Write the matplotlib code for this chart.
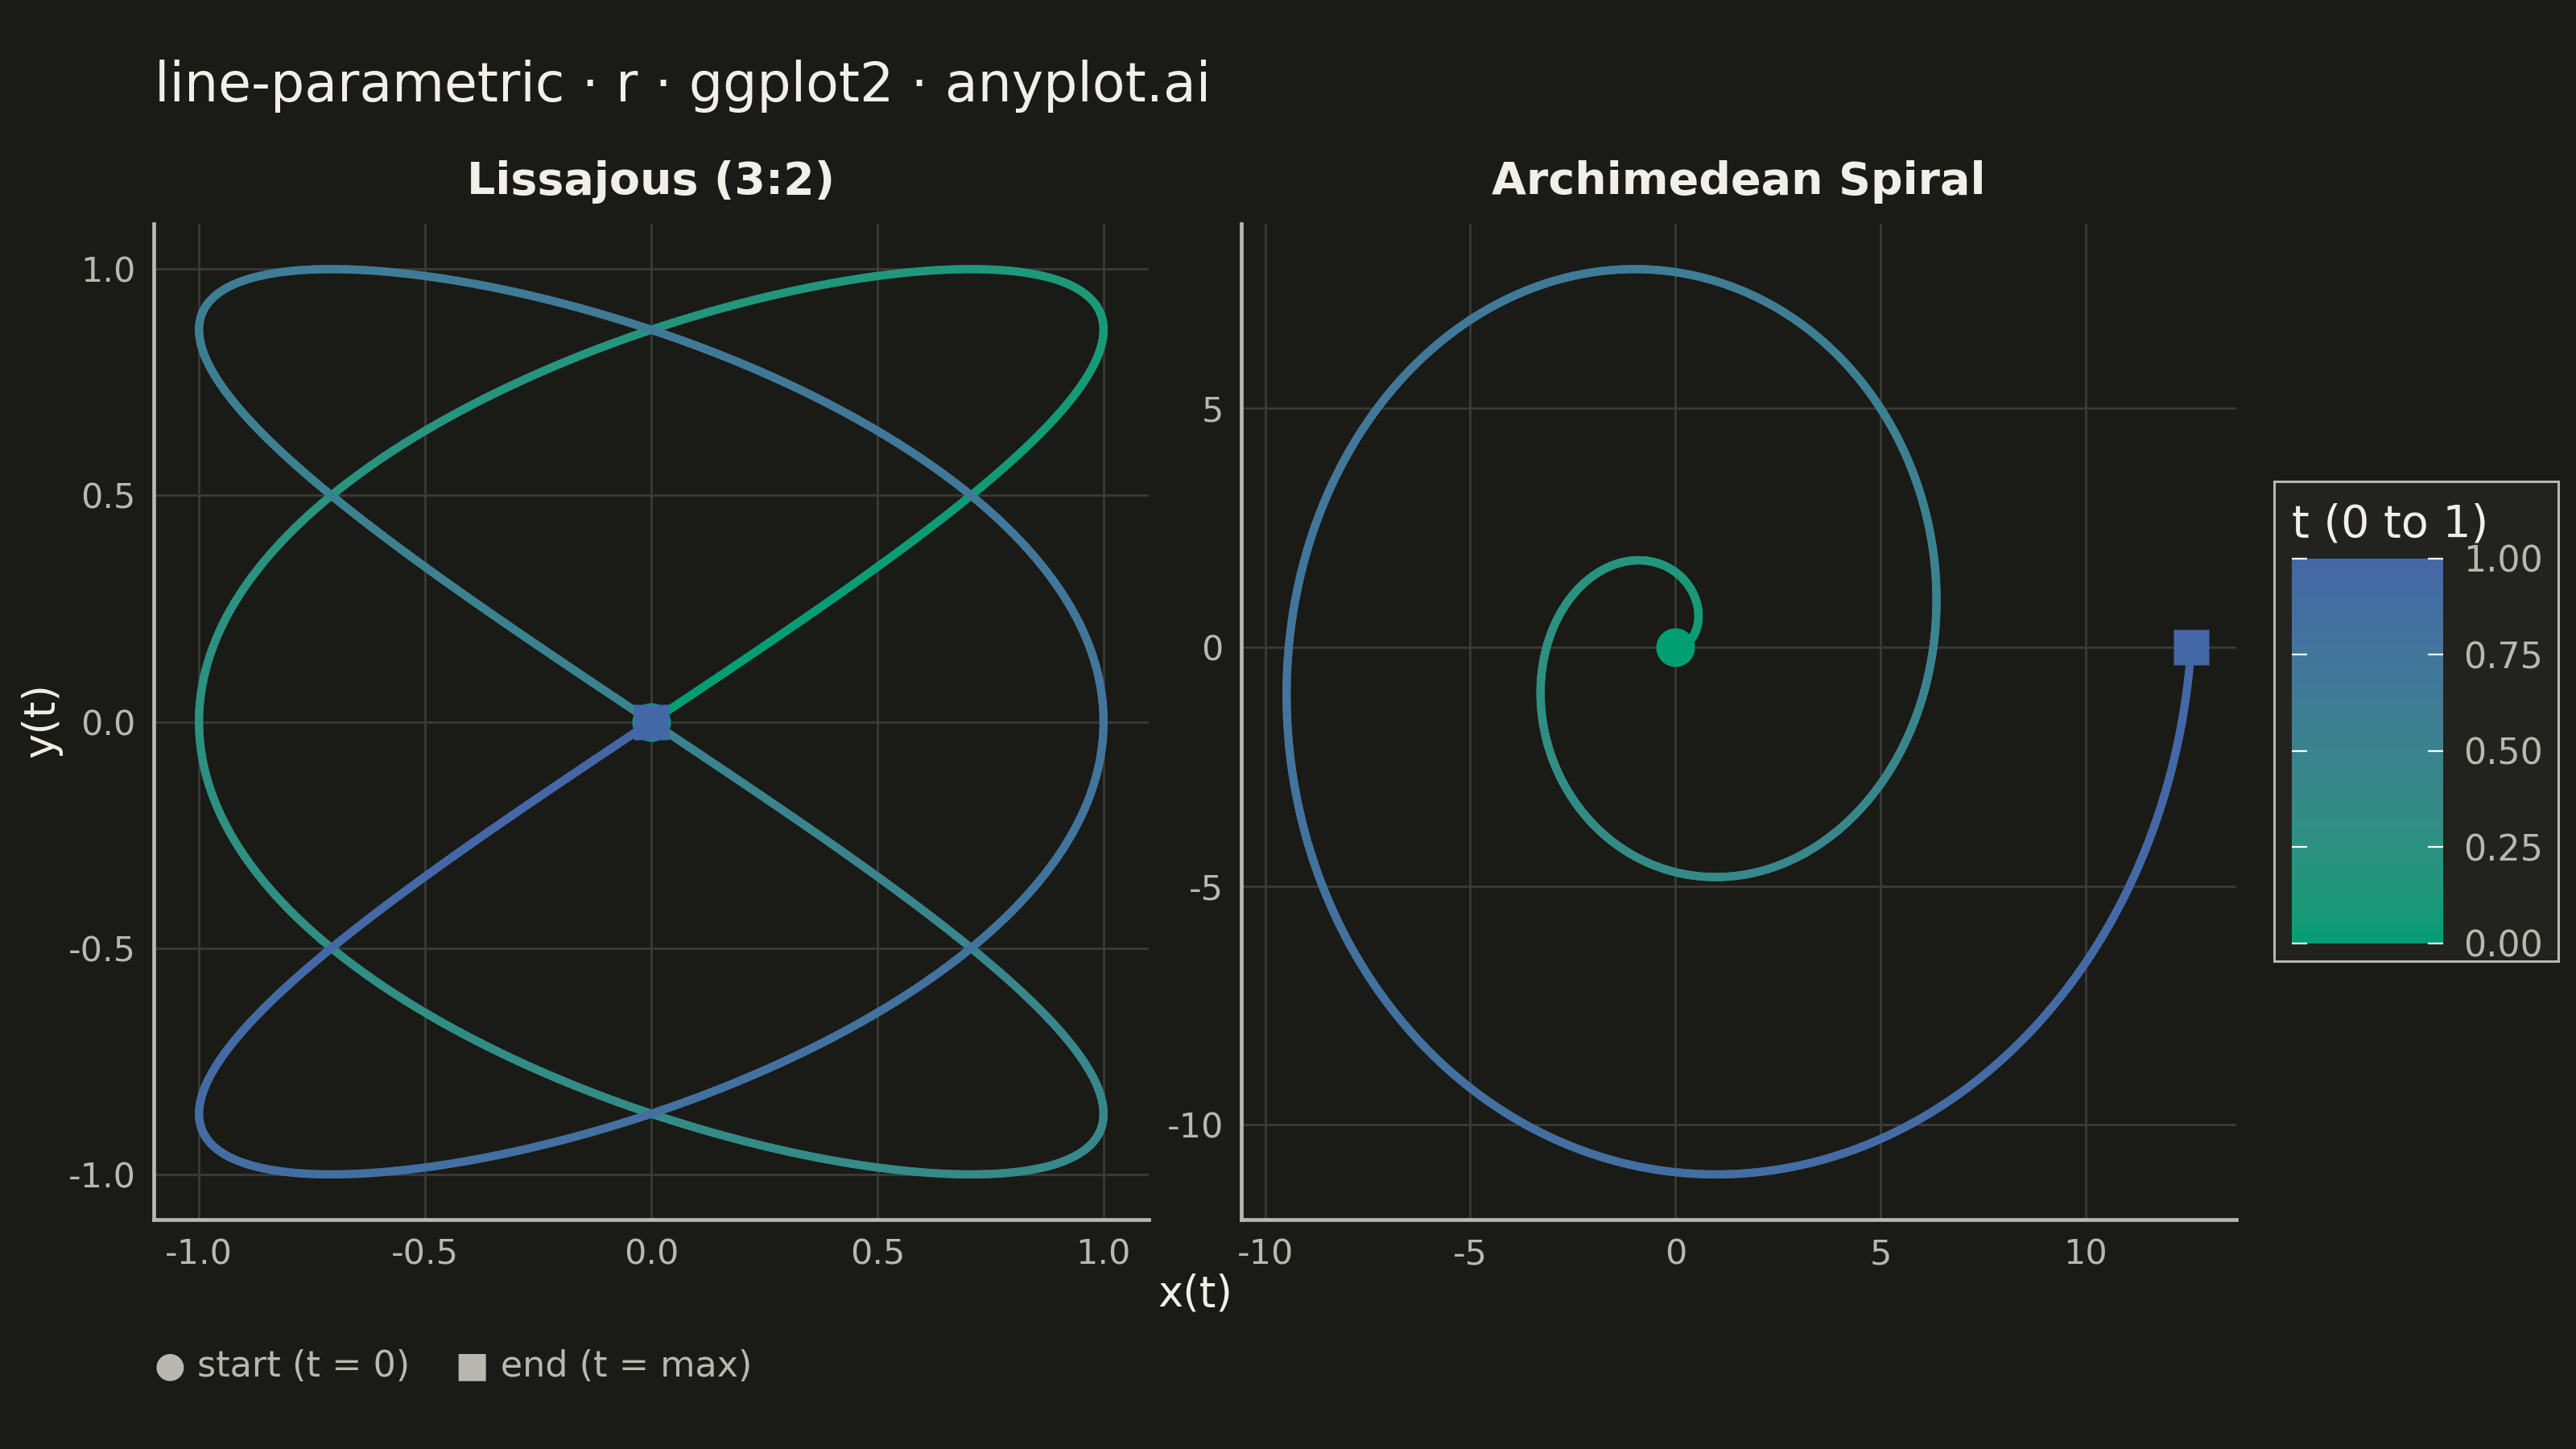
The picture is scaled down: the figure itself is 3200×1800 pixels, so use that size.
import numpy as np
import matplotlib
matplotlib.use("Agg")
import matplotlib.pyplot as plt
from matplotlib.collections import LineCollection
from matplotlib.colors import ListedColormap, Normalize
from matplotlib.cm import ScalarMappable
from matplotlib.patches import Rectangle

# ---------------- data (curve definitions) ----------------
lissajous_freq = [3, 2]          # x = sin(3 t), y = sin(2 t)
lissajous_t_max = 2 * np.pi
spiral_growth = 1.0              # r = 1.0 * theta
spiral_turns = 2                 # theta from 0 to 4 pi
n_points = 1500

panel_titles = ["Lissajous (3:2)", "Archimedean Spiral"]
liss_xticks = [-1.0, -0.5, 0.0, 0.5, 1.0]
liss_xticklabels = ["-1.0", "-0.5", "0.0", "0.5", "1.0"]
liss_yticks = [-1.0, -0.5, 0.0, 0.5, 1.0]
liss_yticklabels = ["-1.0", "-0.5", "0.0", "0.5", "1.0"]
spir_xticks = [-10, -5, 0, 5, 10]
spir_xticklabels = ["-10", "-5", "0", "5", "10"]
spir_yticks = [-10, -5, 0, 5]
spir_yticklabels = ["-10", "-5", "0", "5"]
cbar_ticks = [0.0, 0.25, 0.5, 0.75, 1.0]
cbar_ticklabels = ["0.00", "0.25", "0.50", "0.75", "1.00"]

# ---------------- style ----------------
BG = "#1A1A17"
BOX_BG = "#22221F"
TEXT = "#F0EFE8"
TICK_TEXT = "#B8B8B0"
SPINE = "#B8B8B0"
GRID = "#3A3A36"
C_LOW = "#009E73"
C_HIGH = "#4467A8"

plt.rcParams["font.family"] = ["DejaVu Sans"]
plt.rcParams["axes.unicode_minus"] = False


# Lab interpolation between the two gradient ends (like ggplot2's gradient)
def _hex2rgb(h):
    h = h.lstrip("#")
    return np.array([int(h[i:i + 2], 16) / 255 for i in (0, 2, 4)])

_M = np.array([[0.4124, 0.3576, 0.1805], [0.2126, 0.7152, 0.0722], [0.0193, 0.1192, 0.9505]])
_W = np.array([0.95047, 1.0, 1.08883])

def _rgb2lab(c):
    lin = np.where(c <= 0.04045, c / 12.92, ((c + 0.055) / 1.055) ** 2.4)
    xyz = _M @ lin / _W
    d = 6 / 29
    f = np.where(xyz > d ** 3, np.cbrt(xyz), xyz / (3 * d * d) + 4 / 29)
    return np.array([116 * f[1] - 16, 500 * (f[0] - f[1]), 200 * (f[1] - f[2])])

def _lab2rgb(lab):
    d = 6 / 29
    fy = (lab[0] + 16) / 116
    fx = fy + lab[1] / 500
    fz = fy - lab[2] / 200
    f = np.array([fx, fy, fz])
    xyz = np.where(f > d, f ** 3, 3 * d * d * (f - 4 / 29)) * _W
    lin = np.linalg.solve(_M, xyz)
    lin = np.clip(lin, 0, 1)
    c = np.where(lin <= 0.0031308, 12.92 * lin, 1.055 * lin ** (1 / 2.4) - 0.055)
    return np.clip(c, 0, 1)

_l0, _l1 = _rgb2lab(_hex2rgb(C_LOW)), _rgb2lab(_hex2rgb(C_HIGH))
cmap = ListedColormap([_lab2rgb(_l0 + (_l1 - _l0) * s) for s in np.linspace(0, 1, 256)])
norm = Normalize(0, 1)

# ---------------- curves ----------------
t_l = np.linspace(0, lissajous_t_max, n_points)
liss_x = np.sin(lissajous_freq[0] * t_l)
liss_y = np.sin(lissajous_freq[1] * t_l)
liss_c = t_l / t_l.max()

th = np.linspace(0, 2 * np.pi * spiral_turns, n_points)
spir_x = spiral_growth * th * np.cos(th)
spir_y = spiral_growth * th * np.sin(th)
spir_c = th / th.max()

fig = plt.figure(figsize=(16, 9), dpi=200, facecolor=BG)

ax1 = fig.add_axes([0.0597, 0.1583, 0.38625, 0.6872])
ax2 = fig.add_axes([0.4819, 0.1583, 0.38625, 0.6872])


def draw_panel(ax, x, y, c, title, xt, xtl, yt, ytl, xlim, ylim):
    ax.set_facecolor(BG)
    pts = np.column_stack([x, y]).reshape(-1, 1, 2)
    segs = np.concatenate([pts[:-1], pts[1:]], axis=1)
    lc = LineCollection(segs, cmap=cmap, norm=norm, linewidths=3.7,
                        capstyle="round", zorder=3)
    lc.set_array((c[:-1] + c[1:]) / 2)
    ax.add_collection(lc)
    ax.plot([x[0]], [y[0]], "o", ms=17.3, color=cmap(norm(c[0])), mec="none", zorder=4)
    ax.plot([x[-1]], [y[-1]], "s", ms=16, color=cmap(norm(c[-1])), mec="none", zorder=5)
    ax.set_xlim(*xlim)
    ax.set_ylim(*ylim)
    ax.set_xticks(xt)
    ax.set_xticklabels(xtl)
    ax.set_yticks(yt)
    ax.set_yticklabels(ytl)
    ax.grid(True, color=GRID, linewidth=1.0, zorder=0)
    ax.set_axisbelow(True)
    for s in ("top", "right"):
        ax.spines[s].set_visible(False)
    for s in ("left", "bottom"):
        ax.spines[s].set_color(SPINE)
        ax.spines[s].set_linewidth(1.7)
    ax.tick_params(length=0, pad=8, labelsize=15.5, labelcolor=TICK_TEXT)
    ax.set_title(title, fontsize=20, fontweight="bold", color=TEXT, pad=13.5)


def expand(v, frac=0.05):
    lo, hi = np.min(v), np.max(v)
    r = hi - lo
    return (lo - frac * r, hi + frac * r)


draw_panel(ax1, liss_x, liss_y, liss_c, panel_titles[0],
           liss_xticks, liss_xticklabels, liss_yticks, liss_yticklabels,
           expand(liss_x), expand(liss_y))
draw_panel(ax2, spir_x, spir_y, spir_c, panel_titles[1],
           spir_xticks, spir_xticklabels, spir_yticks, spir_yticklabels,
           expand(spir_x), expand(spir_y))

# ---------------- figure texts ----------------
fig.text(0.06, 0.93, "line-parametric · r · ggplot2 · anyplot.ai",
         fontsize=24, color=TEXT, ha="left", va="baseline")
fig.text(0.464, 0.1067, "x(t)", fontsize=19, color=TEXT, ha="center", va="center")
fig.text(0.016, 0.503, "y(t)", fontsize=19, color=TEXT, ha="center", va="center",
         rotation=90)
fig.text(0.06, 0.0567, "● start (t = 0)    ■ end (t = max)", fontsize=16,
         color=TICK_TEXT, ha="left", va="center")

# ---------------- colour bar legend ----------------
box = Rectangle((0.8828, 0.3367), 0.1103, 0.3311, transform=fig.transFigure,
                facecolor=BOX_BG, edgecolor=SPINE, linewidth=1.1, zorder=-5)
fig.add_artist(box)
cax = fig.add_axes([0.8897, 0.3489, 0.0588, 0.2656])
cax.set_zorder(2)
cb = fig.colorbar(ScalarMappable(norm=norm, cmap=cmap), cax=cax, ticks=cbar_ticks)
cb.outline.set_visible(False)
cb.ax.set_yticklabels(cbar_ticklabels)
cb.ax.tick_params(direction="in", length=6.8, width=0.8, color="white",
                  left=True, right=True, labelleft=False, labelright=True,
                  labelsize=16, labelcolor=TICK_TEXT, pad=9)
fig.text(0.8897, 0.63, "t (0 to 1)", fontsize=20, color=TEXT, ha="left", va="baseline")

fig.savefig("out.png", dpi=200, facecolor=BG)
